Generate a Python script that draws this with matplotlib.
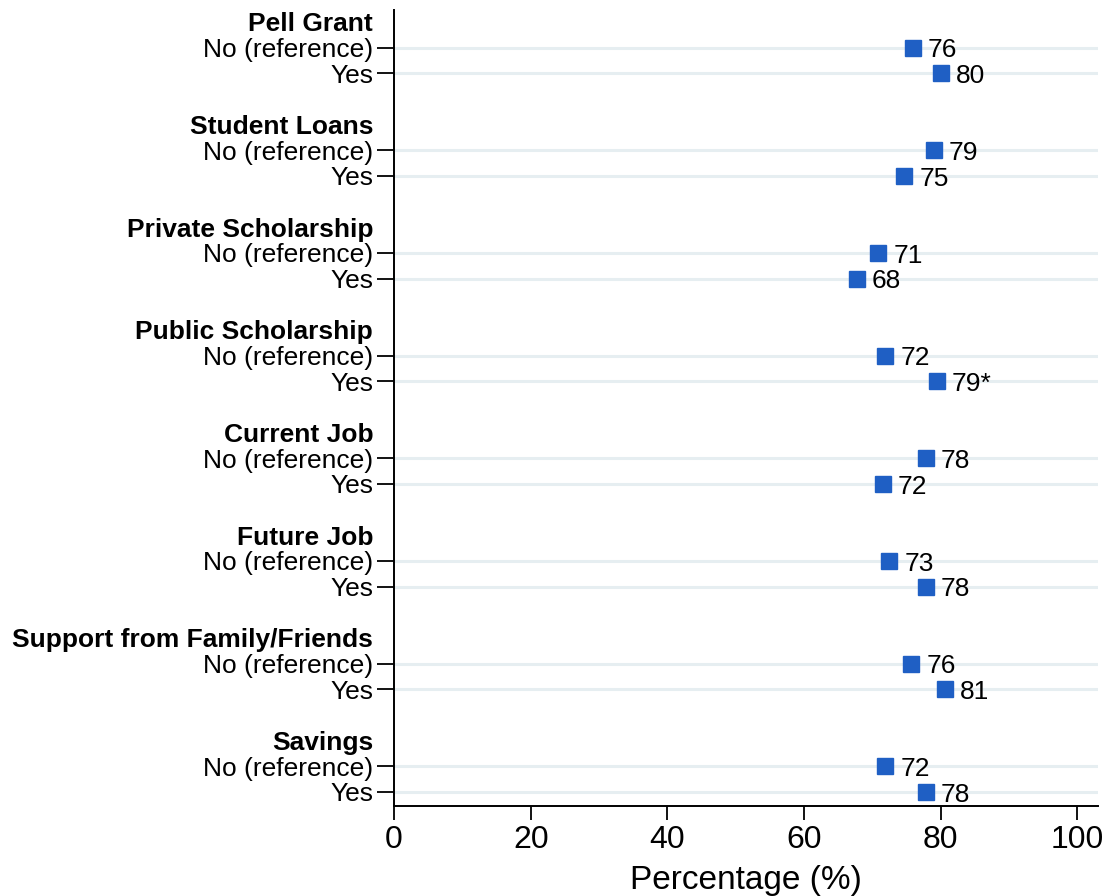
import matplotlib.pyplot as plt
import numpy as np

plt.rcParams["font.family"] = ["Liberation Sans", "DejaVu Sans"]

BLUE = "#1f5fc4"
GRID = "#e6eef1"
INK = "#000000"

groups = ["Pell Grant", "Student Loans", "Private Scholarship", "Public Scholarship",
          "Current Job", "Future Job", "Support from Family/Friends", "Savings"]
levels = ["No (reference)", "Yes"]
no_vals = [75.9, 79.0, 70.9, 71.9, 77.8, 72.5, 75.7, 71.9]
yes_vals = [80.0, 74.7, 67.7, 79.4, 71.5, 77.8, 80.6, 77.8]
no_labels = ["76", "79", "71", "72", "78", "73", "76", "72"]
yes_labels = ["80", "75", "68", "79*", "72", "78", "81", "78"]

fig = plt.figure(figsize=(11.1, 8.96), dpi=100)
ax = fig.add_axes([0.355, 0.1004, 0.634, 0.888])

n = len(groups)
head_pos = np.arange(n) * 4
no_pos = head_pos + 1
yes_pos = head_pos + 2

for y in np.concatenate([no_pos, yes_pos]):
    ax.axhline(y, color=GRID, lw=2.2, zorder=0)

ax.plot(no_vals, no_pos, ls="none", marker="s", ms=11.5, color=BLUE, zorder=3)
ax.plot(yes_vals, yes_pos, ls="none", marker="s", ms=11.5, color=BLUE, zorder=3)

for xs, ys, labs in [(no_vals, no_pos, no_labels), (yes_vals, yes_pos, yes_labels)]:
    for x, y, lab in zip(xs, ys, labs):
        ax.annotate(lab, (x, y), xytext=(11, -2), textcoords="offset points",
                    ha="left", va="center", fontsize=19, color=INK)

row_pos = np.sort(np.concatenate([no_pos, yes_pos]))
row_labels = [levels[i % 2] for i in range(len(row_pos))]
ax.set_yticks(row_pos)
ax.set_yticklabels(row_labels, fontsize=19)
ax.set_yticks(head_pos, minor=True)
ax.set_yticklabels(groups, minor=True, fontsize=19, fontweight="bold")
ax.tick_params(axis="y", which="minor", length=0, pad=15)
ax.tick_params(axis="y", which="major", length=12.5, width=1.3, pad=2.5)

ax.set_ylim(30.55, -0.45)
ax.set_xlim(0, 103)
ax.set_xticks([0, 20, 40, 60, 80, 100])
ax.tick_params(axis="x", labelsize=23, length=10, width=1.3, pad=4)
ax.set_xlabel("Percentage (%)", fontsize=24, labelpad=7)

for side in ["top", "right"]:
    ax.spines[side].set_visible(False)
for side in ["left", "bottom"]:
    ax.spines[side].set_linewidth(1.4)

fig.savefig("out.png", dpi=100, facecolor="white")
